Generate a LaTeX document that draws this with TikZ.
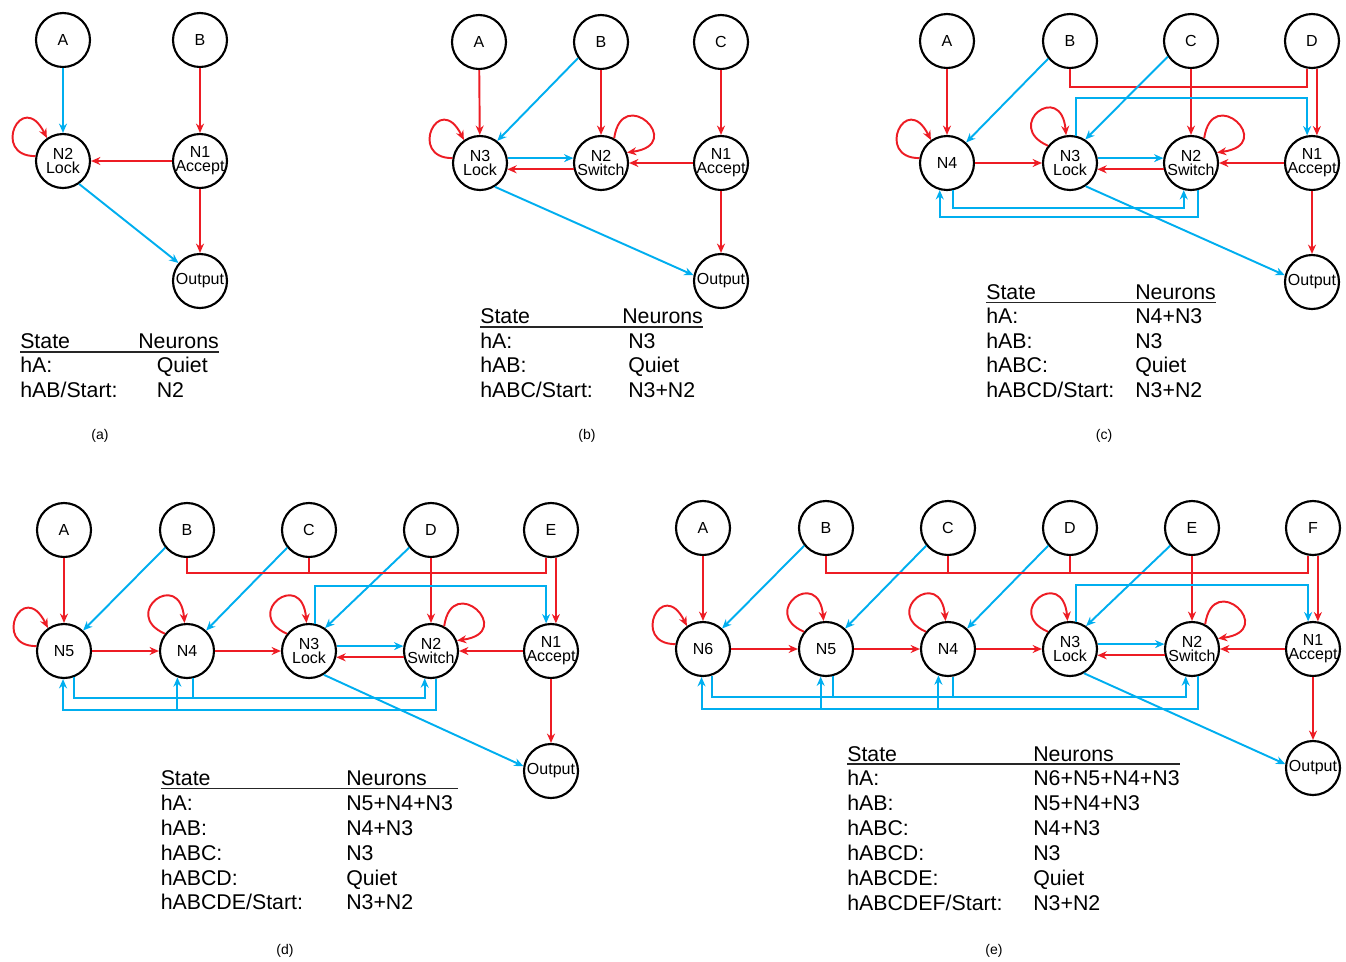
\documentclass[tikz,border=0pt]{standalone}
\usepackage{fontspec}
\setmainfont{Liberation Sans}
\usetikzlibrary{arrows.meta,calc}
\definecolor{nred}{HTML}{ED1C24}
\definecolor{nblue}{HTML}{00AEEF}
\begin{document}
\begin{tikzpicture}[x=0.75pt,y=-0.75pt,
  nd/.style={circle,draw,line width=1.6pt,minimum size=40.5pt,inner sep=-5pt,
     font=\fontsize{12}{10.5}\selectfont,align=center},
  tip/.style={-{Stealth[length=7pt,width=6pt]}},
  ra/.style={draw=nred,line width=1.45pt,tip},
  ba/.style={draw=nblue,line width=1.45pt,tip},
  rl/.style={draw=nred,line width=1.45pt},
  bl/.style={draw=nblue,line width=1.45pt},
  tb/.style={anchor=base west,inner sep=0pt,font=\fontsize{16}{18}\selectfont},
  ul/.style={draw=black!85,line width=1pt},
  capt/.style={font=\fontsize{10.5}{12}\selectfont}]
\useasboundingbox (0,0) rectangle (1346,961);

% ================= (a)
\node[nd] (aA) at (63,40) {A};
\node[nd] (aB) at (200,40) {B};
\node[nd] (aN2) at (63,161) {N2\\Lock};
\node[nd] (aN1) at (200,161) {N1\\Accept};
\node[nd] (aO) at (200,281) {Output};
\draw[ba] (aA) -- (aN2);
\draw[ra] (aB) -- (aN1);
\draw[ra] (aN1) -- (aN2);
\draw[ra] (aN1) -- (aO);
\draw[ba] (aN2.305) -- (aO.140);
\draw[ra] (aN2.170) .. controls +(-45,0) and +(-25,-50) .. (aN2.125);

\node[tb] (taH) at (20,348) {State};
\node[tb] (taN) at (138,348) {Neurons};
\draw[ul] (20,352) -- (219,352);
\node[tb] (ta1) at (20,372) {hA:};
\node[tb] (ta1v) at (156.5,372) {Quiet};
\node[tb] (ta2) at (20,397) {hAB/Start:};
\node[tb] (ta2v) at (156.5,397) {N2};
\node[capt] (capa) at (100,436) {(a)};

% ================= (b)
\node[nd] (bA) at (479,42) {A};
\node[nd] (bB) at (601,42) {B};
\node[nd] (bC) at (721,42) {C};
\node[nd] (bN3) at (480,163) {N3\\Lock};
\node[nd] (bN2) at (601,163) {N2\\Switch};
\node[nd] (bN1) at (721,163) {N1\\Accept};
\node[nd] (bO) at (721,281) {Output};
\draw[ra] (bA) -- (bN3);
\draw[ba] (bB.215) -- (bN3.52);
\draw[ra] (bB) -- (bN2);
\draw[ra] (bC) -- (bN1);
\draw[ba] (bN3.10) -- (bN2.170);
\draw[ra] (bN2.193) -- (bN3.347);
\draw[ra] (bN1) -- (bN2);
\draw[ra] (bN1) -- (bO);
\draw[ba] (bN3.302) -- (bO.168);
\draw[ra] (bN3.170) .. controls +(-45,0) and +(-25,-50) .. (bN3.125);
\draw[ra] (bN2.62) .. controls +(8,-55) and +(60,-8) .. (bN2.22);

\node[tb] (tbH) at (480,323) {State};
\node[tb] (tbN) at (622,323) {Neurons};
\draw[ul] (480,327) -- (703,327);
\node[tb] (tb1) at (480,348) {hA:};
\node[tb] (tb1v) at (628,348) {N3};
\node[tb] (tb2) at (480,372.5) {hAB:};
\node[tb] (tb2v) at (628,372.5) {Quiet};
\node[tb] (tb3) at (480,397) {hABC/Start:};
\node[tb] (tb3v) at (628,397) {N3+N2};
\node[capt] (capb) at (587,436) {(b)};

% ================= (c)
\node[nd] (cA) at (947,41) {A};
\node[nd] (cB) at (1070,41) {B};
\node[nd] (cC) at (1191,41) {C};
\node[nd] (cD) at (1312,41) {D};
\node[nd] (cN4) at (947,163) {N4};
\node[nd] (cN3) at (1070,163) {N3\\Lock};
\node[nd] (cN2) at (1191,163) {N2\\Switch};
\node[nd] (cN1) at (1312,163) {N1\\Accept};
\node[nd] (cO) at (1312,282) {Output};
\coordinate (crb) at (0,87);
\coordinate (cbb) at (0,98);
\coordinate (cf1) at (0,208);
\coordinate (cf2) at (0,217);
\draw[ra] (cA) -- (cN4);
\draw[ba] (cB.219) -- (cN4.47);
\draw[rl] (cB.south) -- (cB.south |- crb) -- (cD.260 |- crb) -- (cD.260);
\draw[ba] (cC.214) -- (cN3.57);
\draw[ra] (cC) -- (cN2);
\draw[ra] (cD.280) -- (cN1.80);
\draw[ba] (cN3.77) -- (cN3.77 |- cbb) -- (cN1.100 |- cbb) -- (cN1.100);
\draw[ra] (cN4) -- (cN3);
\draw[ba] (cN3.10) -- (cN2.170);
\draw[ra] (cN2.193) -- (cN3.347);
\draw[ra] (cN1) -- (cN2);
\draw[ra] (cN1) -- (cO);
\draw[ba] (cN3.304) -- (cO.166);
\draw[ba] (cN4.283) -- (cN4.283 |- cf1) -- (cN2.255 |- cf1) -- (cN2.255);
\draw[ba] (cN2.285) -- (cN2.285 |- cf2) -- (cN4.255 |- cf2) -- (cN4.255);
\draw[ra] (cN4.170) .. controls +(-45,0) and +(-25,-50) .. (cN4.125);
\draw[ra] (cN3.142) .. controls +(-45,-20) and +(-5,-55) .. (cN3.98);
\draw[ra] (cN2.62) .. controls +(8,-55) and +(60,-8) .. (cN2.22);

\node[tb] (tcH) at (986,299) {State};
\node[tb] (tcN) at (1135,299) {Neurons};
\draw[ul] (986,302.5) -- (1216,302.5);
\node[tb] (tc1) at (986,323.5) {hA:};
\node[tb] (tc1v) at (1135,323.5) {N4+N3};
\node[tb] (tc2) at (986,348) {hAB:};
\node[tb] (tc2v) at (1135,348) {N3};
\node[tb] (tc3) at (986,372.5) {hABC:};
\node[tb] (tc3v) at (1135,372.5) {Quiet};
\node[tb] (tc4) at (986,397.5) {hABCD/Start:};
\node[tb] (tc4v) at (1135,397.5) {N3+N2};
\node[capt] (capc) at (1104,436) {(c)};

% ================= (d)
\node[nd] (dA) at (64,530) {A};
\node[nd] (dB) at (187,530) {B};
\node[nd] (dC) at (309,530) {C};
\node[nd] (dD) at (431,530) {D};
\node[nd] (dE) at (551,530) {E};
\node[nd] (dN5) at (64,651) {N5};
\node[nd] (dN4) at (187,651) {N4};
\node[nd] (dN3) at (309,651) {N3\\Lock};
\node[nd] (dN2) at (431,651) {N2\\Switch};
\node[nd] (dN1) at (551,651) {N1\\Accept};
\node[nd] (dO) at (551,771) {Output};
\coordinate (drb) at (0,573);
\coordinate (dbb) at (0,586);
\coordinate (df1) at (0,698);
\coordinate (df2) at (0,710);
\draw[ra] (dA) -- (dN5);
\draw[ba] (dB.219) -- (dN5.47);
\draw[ba] (dC.219) -- (dN4.47);
\draw[ba] (dD.219) -- (dN3.55);
\draw[rl] (dB.south) -- (dB.south |- drb) -- (dE.260 |- drb) -- (dE.260);
\draw[rl] (dC.south) -- (dC.south |- drb);
\draw[ra] (dD) -- (dN2);
\draw[ra] (dE.280) -- (dN1.80);
\draw[ba] (dN3.77) -- (dN3.77 |- dbb) -- (dN1.100 |- dbb) -- (dN1.100);
\draw[ra] (dN5) -- (dN4);
\draw[ra] (dN4) -- (dN3);
\draw[ba] (dN3.10) -- (dN2.170);
\draw[ra] (dN2.193) -- (dN3.347);
\draw[ra] (dN1) -- (dN2);
\draw[ra] (dN1) -- (dO);
\draw[ba] (dN3.302) -- (dO.170);
\draw[ba] (dN5.290) -- (dN5.290 |- df1) -- (dN2.257 |- df1) -- (dN2.257);
\draw[bl] (dN4.283) -- (dN4.283 |- df1);
\draw[ba] (dN2.281) -- (dN2.281 |- df2) -- (dN5.268 |- df2) -- (dN5.268);
\draw[ba] (dN4.250 |- df2) -- (dN4.250);
\draw[ra] (dN5.170) .. controls +(-45,0) and +(-25,-50) .. (dN5.125);
\draw[ra] (dN4.142) .. controls +(-45,-20) and +(-5,-55) .. (dN4.95);
\draw[ra] (dN3.142) .. controls +(-45,-20) and +(-5,-55) .. (dN3.95);
\draw[ra] (dN2.62) .. controls +(8,-55) and +(60,-8) .. (dN2.22);

\node[tb] (tdH) at (160.5,785) {State};
\node[tb] (tdN) at (346,785) {Neurons};
\draw[ul] (160.5,788.5) -- (458,788.5);
\node[tb] (td1) at (160.5,810) {hA:};
\node[tb] (td1v) at (346,810) {N5+N4+N3};
\node[tb] (td2) at (160.5,835) {hAB:};
\node[tb] (td2v) at (346,835) {N4+N3};
\node[tb] (td3) at (160.5,860) {hABC:};
\node[tb] (td3v) at (346,860) {N3};
\node[tb] (td4) at (160.5,885) {hABCD:};
\node[tb] (td4v) at (346,885) {Quiet};
\node[tb] (td5) at (160.5,909.5) {hABCDE/Start:};
\node[tb] (td5v) at (346,909.5) {N3+N2};
\node[capt] (capd) at (285,951) {(d)};

% ================= (e)
\node[nd] (eA) at (703,528) {A};
\node[nd] (eB) at (826,528) {B};
\node[nd] (eC) at (948,528) {C};
\node[nd] (eD) at (1070,528) {D};
\node[nd] (eE) at (1192,528) {E};
\node[nd] (eF) at (1313,528) {F};
\node[nd] (eN6) at (703,649) {N6};
\node[nd] (eN5) at (826,649) {N5};
\node[nd] (eN4) at (948,649) {N4};
\node[nd] (eN3) at (1070,649) {N3\\Lock};
\node[nd] (eN2) at (1192,649) {N2\\Switch};
\node[nd] (eN1) at (1313,649) {N1\\Accept};
\node[nd] (eO) at (1313,768) {Output};
\coordinate (erb) at (0,573);
\coordinate (ebb) at (0,585);
\coordinate (ef1) at (0,697);
\coordinate (ef2) at (0,709);
\draw[ra] (eA) -- (eN6);
\draw[ba] (eB.219) -- (eN6.47);
\draw[ba] (eC.219) -- (eN5.47);
\draw[ba] (eD.219) -- (eN4.47);
\draw[ba] (eE.219) -- (eN3.55);
\draw[rl] (eB.south) -- (eB.south |- erb) -- (eF.260 |- erb) -- (eF.260);
\draw[rl] (eC.south) -- (eC.south |- erb);
\draw[rl] (eD.south) -- (eD.south |- erb);
\draw[ra] (eE) -- (eN2);
\draw[ra] (eF.280) -- (eN1.80);
\draw[ba] (eN3.77) -- (eN3.77 |- ebb) -- (eN1.100 |- ebb) -- (eN1.100);
\draw[ra] (eN6) -- (eN5);
\draw[ra] (eN5) -- (eN4);
\draw[ra] (eN4) -- (eN3);
\draw[ba] (eN3.10) -- (eN2.170);
\draw[ra] (eN2.193) -- (eN3.347);
\draw[ra] (eN1) -- (eN2);
\draw[ra] (eN1) -- (eO);
\draw[ba] (eN3.300) -- (eO.172);
\draw[ba] (eN6.288) -- (eN6.288 |- ef1) -- (eN2.257 |- ef1) -- (eN2.257);
\draw[bl] (eN5.285) -- (eN5.285 |- ef1);
\draw[bl] (eN4.281) -- (eN4.281 |- ef1);
\draw[ba] (eN2.282) -- (eN2.282 |- ef2) -- (eN6.267 |- ef2) -- (eN6.267);
\draw[ba] (eN5.259 |- ef2) -- (eN5.259);
\draw[ba] (eN4.250 |- ef2) -- (eN4.250);
\draw[ra] (eN6.170) .. controls +(-45,0) and +(-25,-50) .. (eN6.125);
\draw[ra] (eN5.142) .. controls +(-45,-20) and +(-5,-55) .. (eN5.95);
\draw[ra] (eN4.142) .. controls +(-45,-20) and +(-5,-55) .. (eN4.95);
\draw[ra] (eN3.142) .. controls +(-45,-20) and +(-5,-55) .. (eN3.95);
\draw[ra] (eN2.62) .. controls +(8,-55) and +(60,-8) .. (eN2.22);

\node[tb] (teH) at (847,761) {State};
\node[tb] (teN) at (1033,761) {Neurons};
\draw[ul] (847,764) -- (1180,764);
\node[tb] (te1) at (847,785) {hA:};
\node[tb] (te1v) at (1033,785) {N6+N5+N4+N3};
\node[tb] (te2) at (847,810) {hAB:};
\node[tb] (te2v) at (1033,810) {N5+N4+N3};
\node[tb] (te3) at (847,835) {hABC:};
\node[tb] (te3v) at (1033,835) {N4+N3};
\node[tb] (te4) at (847,860) {hABCD:};
\node[tb] (te4v) at (1033,860) {N3};
\node[tb] (te5) at (847,885) {hABCDE:};
\node[tb] (te5v) at (1033,885) {Quiet};
\node[tb] (te6) at (847,910) {hABCDEF/Start:};
\node[tb] (te6v) at (1033,910) {N3+N2};
\node[capt] (cape) at (994,951) {(e)};
\end{tikzpicture}
\end{document}
